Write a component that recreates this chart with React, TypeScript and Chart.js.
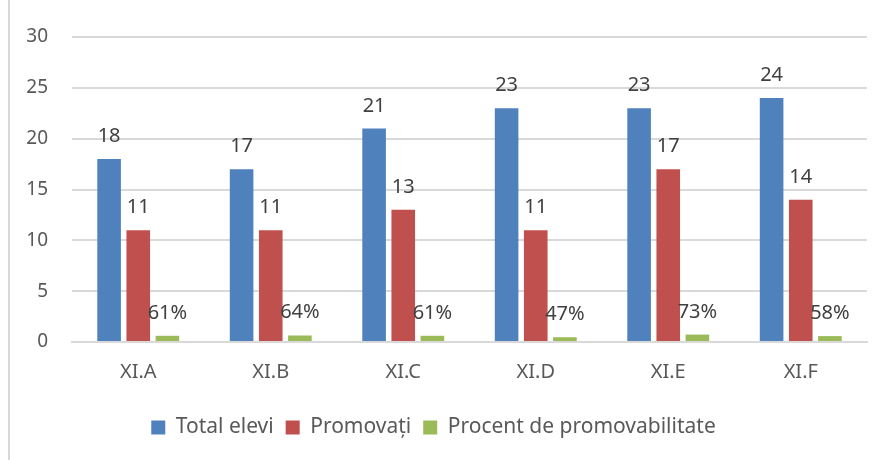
import React, { useEffect, useRef } from "react";
import { Chart, registerables } from "chart.js";

Chart.register(...registerables);

const categories = ["XI.A", "XI.B", "XI.C", "XI.D", "XI.E", "XI.F"];
const totalElevi = [18, 17, 21, 23, 23, 24];
const promovati = [11, 11, 13, 11, 17, 14];
const procent = [0.61, 0.64, 0.61, 0.47, 0.73, 0.58];
const seriesNames = ["Total elevi", "Promovați", "Procent de promovabilitate"];
const yTicks = [0, 5, 10, 15, 20, 25, 30];

const FONT = "'Noto Sans', 'Open Sans', sans-serif";

const labelPlugin = {
  id: "barLabels",
  afterDatasetsDraw(chart: any) {
    const ctx = chart.ctx;
    ctx.save();
    ctx.font = `20px ${FONT}`;
    ctx.fillStyle = "#404040";
    ctx.textAlign = "center";
    ctx.textBaseline = "alphabetic";
    chart.data.datasets.forEach((ds: any, di: number) => {
      const meta = chart.getDatasetMeta(di);
      meta.data.forEach((bar: any, i: number) => {
        const v = ds.data[i];
        const txt = di === 2 ? `${Math.round(v * 100)}%` : String(v);
        ctx.fillText(txt, bar.x, bar.y - 17);
      });
    });
    ctx.restore();
  },
};

export default function App() {
  const ref = useRef<HTMLCanvasElement>(null);
  useEffect(() => {
    if (!ref.current) return;
    const chart = new Chart(ref.current, {
      type: "bar",
      data: {
        labels: categories,
        datasets: [
          { label: seriesNames[0], data: totalElevi, backgroundColor: "#4F81BD" },
          { label: seriesNames[1], data: promovati, backgroundColor: "#C0504D" },
          { label: seriesNames[2], data: procent, backgroundColor: "#9BBB59" },
        ],
      },
      options: {
        animation: false,
        responsive: false,
        maintainAspectRatio: false,
        layout: { padding: { left: 0, right: 21, top: 37, bottom: 12 } },
        datasets: { bar: { categoryPercentage: 0.66, barPercentage: 0.81 } },
        scales: {
          x: {
            grid: { display: false, drawTicks: false },
            border: { display: true, color: "#d9d9d9", width: 2 },
            ticks: { color: "#595959", font: { family: FONT, size: 20 }, padding: 18 },
            afterFit(scale: any) {
              scale.height = 63;
            },
          },
          y: {
            min: 0,
            max: 30,
            afterBuildTicks(scale: any) {
              scale.ticks = yTicks.map((v) => ({ value: v }));
            },
            grid: { color: "#d9d9d9", lineWidth: 2, drawTicks: false },
            border: { display: false },
            ticks: { color: "#595959", font: { family: FONT, size: 19 }, padding: 24 },
            afterFit(scale: any) {
              scale.width = 72;
            },
          },
        },
        plugins: {
          legend: {
            position: "bottom",
            labels: {
              boxWidth: 14,
              boxHeight: 14,
              padding: 12,
              color: "#595959",
              font: { family: FONT, size: 21 },
            },
          },
          tooltip: { enabled: false },
          title: { display: false },
        },
      },
      plugins: [labelPlugin],
    });
    return () => chart.destroy();
  }, []);
  return (
    <div style={{ position: "fixed", left: 0, top: 0, width: 888, height: 460, background: "#fff" }}>
      <div style={{ position: "absolute", left: 8, top: 0, width: 2, height: 460, background: "#d9d9d9" }} />
      <canvas ref={ref} width={888} height={460} style={{ position: "absolute", left: 0, top: 0 }} />
    </div>
  );
}
